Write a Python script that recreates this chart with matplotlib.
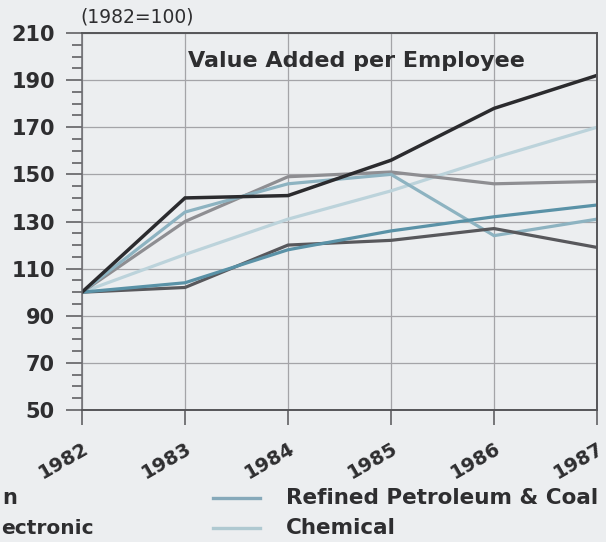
import matplotlib
matplotlib.use("Agg")
import matplotlib.pyplot as plt
from matplotlib.ticker import MultipleLocator

plt.rcParams['font.family'] = ['DejaVu Sans']

# data (index, 1982 = 100)
years = [1982, 1983, 1984, 1985, 1986, 1987]
series_a = [100, 140, 141, 156, 178, 192]   # darkest line
series_b = [100, 130, 149, 151, 146, 147]   # medium grey
chemical = [100, 116, 131, 143, 157, 170]   # light blue, near straight
refined = [100, 134, 146, 150, 124, 131]    # blue-grey, drop in 1986
series_e = [100, 104, 118, 126, 132, 137]   # steel blue
series_f = [100, 102, 120, 122, 127, 119]   # dark grey

y_ticks = [50, 70, 90, 110, 130, 150, 170, 190, 210]

BG = "#eceef0"
TXT = "#2e2e30"

fig = plt.figure(figsize=(6.06, 5.42), dpi=100)
fig.patch.set_facecolor(BG)
ax = fig.add_axes([82 / 606, 1 - 410 / 542, 515 / 606, 377 / 542])
ax.set_facecolor(BG)

ax.plot(years, chemical, color="#bcd3db", lw=2.3, solid_joinstyle="miter")
ax.plot(years, series_b, color="#8e8e92", lw=2.3, solid_joinstyle="miter")
ax.plot(years, refined, color="#8db3c1", lw=2.3, solid_joinstyle="miter")
ax.plot(years, series_f, color="#58585c", lw=2.3, solid_joinstyle="miter")
ax.plot(years, series_e, color="#5a92a7", lw=2.3, solid_joinstyle="miter")
ax.plot(years, series_a, color="#2b2b2e", lw=2.5, solid_joinstyle="miter")

ax.set_xlim(1982, 1987)
ax.set_ylim(50, 210)
ax.set_yticks(y_ticks)
ax.set_yticklabels([str(v) for v in y_ticks], fontsize=15, fontweight="bold", color=TXT)
ax.yaxis.set_minor_locator(MultipleLocator(5))
ax.set_xticks(years)
ax.set_xticklabels([str(y) for y in years], fontsize=14, fontweight="bold", color=TXT,
                   rotation=30, ha="right", va="top", rotation_mode="anchor")

# tick lengths are in points (1 px = 0.72 pt here)
ax.tick_params(axis="y", which="major", length=11.5, width=1.1, color="#555558", pad=8)
ax.tick_params(axis="y", which="minor", length=7, width=1.1, color="#555558")
ax.tick_params(axis="x", which="major", length=11, width=1.1, color="#555558", pad=10)

ax.grid(True, which="major", color="#a4a4a8", lw=0.9)
ax.set_axisbelow(True)
for s in ["top", "right"]:
    ax.spines[s].set_color("#555558")
    ax.spines[s].set_linewidth(1.4)
ax.spines["left"].set_color("#6a6a6e")
ax.spines["left"].set_linewidth(1.1)
ax.spines["bottom"].set_color("#555558")
ax.spines["bottom"].set_linewidth(1.4)

ax.text(0.205, 0.925, "Value Added per Employee", transform=ax.transAxes,
        fontsize=16, fontweight="bold", color=TXT, ha="left", va="center")
fig.text(80 / 606, 1 - 17 / 542, "(1982=100)", fontsize=13.5, color=TXT,
         ha="left", va="center")

# legend: only the tail of the left column is visible in the original
fig.text(2 / 606, 1 - 498 / 542, "n", fontsize=15, fontweight="bold",
         color=TXT, ha="left", va="center")
fig.text(1 / 606, 1 - 528 / 542, "ectronic", fontsize=14.5, fontweight="bold",
         color=TXT, ha="left", va="center")
for y, lab, col in [(498, "Refined Petroleum & Coal", "#86a9ba"), (528, "Chemical", "#afc9d1")]:
    fig.add_artist(plt.Line2D([213 / 606, 260 / 606], [1 - y / 542, 1 - y / 542],
                              color=col, lw=2.4, transform=fig.transFigure))
    fig.text(286 / 606, 1 - y / 542, lab, fontsize=15.5, fontweight="bold",
             color=TXT, ha="left", va="center")

fig.savefig("out.png", dpi=100, facecolor=BG)
